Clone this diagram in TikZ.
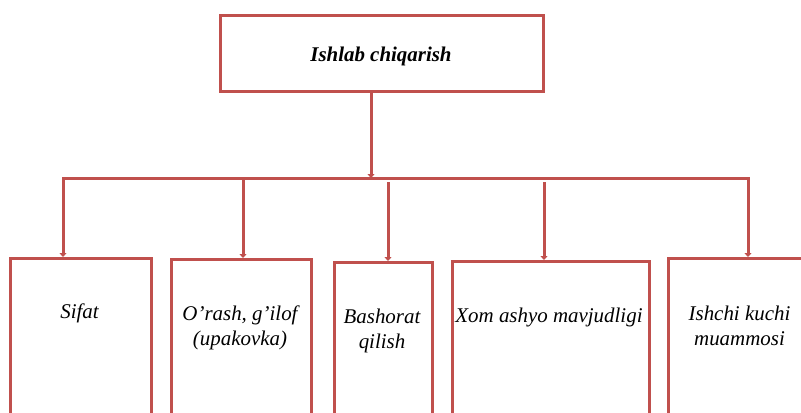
\documentclass[tikz,border=0pt]{standalone}
\usepackage{fontspec}
\setmainfont{Liberation Serif}
\usetikzlibrary{arrows.meta}
\definecolor{boxred}{HTML}{C0504D}
\begin{document}
\begin{tikzpicture}[x=1bp,y=-1bp,
  frame/.style={draw=boxred, line width=3bp, rectangle, inner sep=0pt, anchor=north west},
  link/.style={draw=boxred, line width=3bp},
  tip/.style={-{Triangle[width=7bp,length=4bp]}},
  feed/.style={link, tip},
  lbl/.style={font=\fontsize{21}{25}\selectfont\itshape, align=center, inner sep=0pt},
]
\useasboundingbox (0,0) rectangle (801,412);
\clip (0,0) rectangle (801,412);

% top box
\node[frame, minimum width=323bp, minimum height=76bp] (top) at (219,14) {};
\node[lbl, font=\fontsize{21}{25}\selectfont\bfseries\itshape] (toptext) at (381,56) {Ishlab chiqarish};

% lower boxes (running past the bottom edge)
\node[frame, minimum width=141bp, minimum height=220bp] (sifat) at (9,257) {};
\node[frame, minimum width=140bp, minimum height=220bp] (orash) at (170,258) {};
\node[frame, minimum width=98bp, minimum height=220bp] (bash) at (333,261) {};
\node[frame, minimum width=197bp, minimum height=220bp] (xom) at (451,260) {};
\node[frame, minimum width=146bp, minimum height=220bp] (ishchi) at (667,257) {};

% labels
\node[lbl] (tsifat) at (79.5,313) {Sifat};
\node[lbl] (torash) at (240,328) {O’rash, g’ilof\\(upakovka)};
\node[lbl] (tbash) at (382,331) {Bashorat\\qilish};
\node[lbl] (txom) at (549,317) {Xom ashyo mavjudligi};
\node[lbl] (tishchi) at (739.5,326) {Ishchi kuchi\\muammosi};

% bus line and branch points
\coordinate (hub) at (371,178);
\coordinate (busL) at (63,178);
\coordinate (busR) at (748,178);
\coordinate (d2) at (243,178);
\coordinate (d3) at (388,182);
\coordinate (d4) at (544,182);

% connectors
\draw[feed] (hub |- top.south) -- (hub);
\draw[link, {Triangle[width=7bp,length=4bp]}-{Triangle[width=7bp,length=4bp]}]
  (busL |- sifat.north) -- (busL) -- (busR) -- (busR |- ishchi.north);
\draw[feed] (d2) -- (d2 |- orash.north);
\draw[feed] (d3) -- (d3 |- bash.north);
\draw[feed] (d4) -- (d4 |- xom.north);
\end{tikzpicture}
\end{document}
